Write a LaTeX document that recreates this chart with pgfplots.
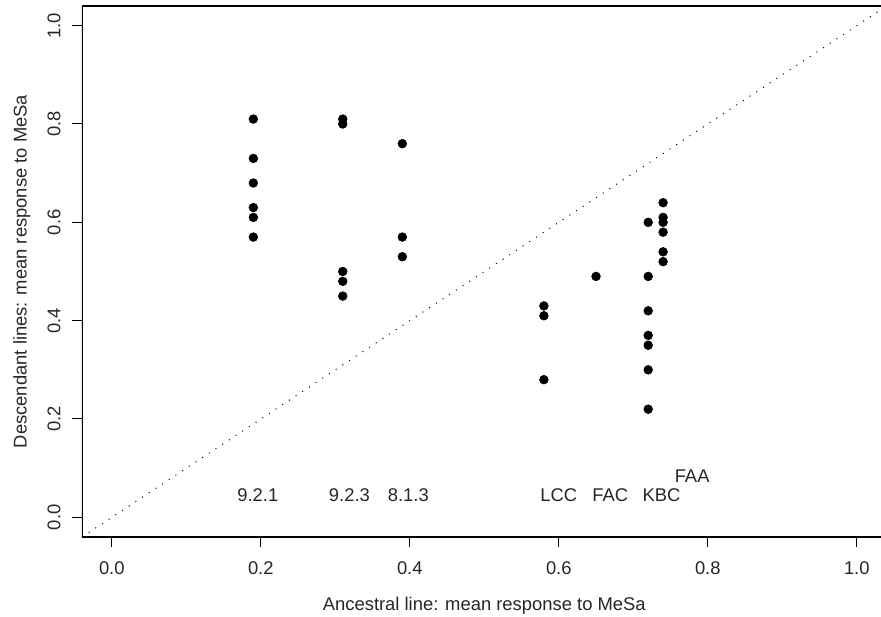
\documentclass[border=0pt]{standalone}
\usepackage{fontspec}
\setmainfont{Liberation Sans}
\usepackage{pgfplots}
\pgfplotsset{compat=1.18}
\pgfplotstableread{
x y
0.19 0.81
0.19 0.73
0.19 0.68
0.19 0.63
0.19 0.61
0.19 0.57
0.31 0.81
0.31 0.80
0.31 0.50
0.31 0.48
0.31 0.45
0.39 0.76
0.39 0.57
0.39 0.53
0.58 0.43
0.58 0.41
0.58 0.28
0.65 0.49
0.72 0.60
0.72 0.49
0.72 0.42
0.72 0.37
0.72 0.35
0.72 0.30
0.72 0.22
0.74 0.64
0.74 0.61
0.74 0.60
0.74 0.58
0.74 0.54
0.74 0.52
}\pts
\begin{document}
\begin{tikzpicture}[font=\fontsize{13.8pt}{16pt}\selectfont]
\begin{axis}[
  scale only axis,
  width=599.25pt, height=398.25pt,
  xmin=-0.04, xmax=1.0325, ymin=-0.04, ymax=1.04,
  axis line style={draw=none},
  xtick={0,0.2,0.4,0.6,0.8,1},
  ytick={0,0.2,0.4,0.6,0.8,1},
  xticklabels={0.0,0.2,0.4,0.6,0.8,1.0},
  yticklabels={0.0,0.2,0.4,0.6,0.8,1.0},
  /pgf/number format/assume math mode=true,
  tick align=outside, xtick pos=bottom, ytick pos=left,
  major tick length=7.5pt,
  tick style={line width=0.75pt, black},
  xticklabel style={anchor=center, yshift=-15.75pt, text=black!85},
  yticklabel style={anchor=center, xshift=-13.5pt, rotate=90, text=black!85},
  xlabel={Ancestral line: mean response to MeSa},
  ylabel={Descendant lines: mean response to MeSa},
  xlabel style={at={(axis description cs:0.5035,-0.13)}, anchor=center, text=black!85},
  ylabel style={at={(axis description cs:-0.0751,0.5)}, anchor=center, text=black!85},
]
\draw[line width=0.8pt] (rel axis cs:1,1) -- (rel axis cs:0,1) -- (rel axis cs:0,0) -- (rel axis cs:1,0);
\addplot[black, line width=0.75pt, dash pattern=on 0.75pt off 5.25pt] coordinates {(-0.04,-0.04) (1.04,1.04)};
\addplot[only marks, mark=*, mark size=3.3pt, black] table[x=x,y=y] {\pts};
\node[text=black!85] at (axis cs:0.196,0.045) {9.2.1};
\node[text=black!85] at (axis cs:0.319,0.045) {9.2.3};
\node[text=black!85] at (axis cs:0.398,0.045) {8.1.3};
\node[text=black!85] at (axis cs:0.600,0.045) {LCC};
\node[text=black!85] at (axis cs:0.669,0.045) {FAC};
\node[text=black!85] at (axis cs:0.738,0.045) {KBC};
\node[text=black!85] at (axis cs:0.779,0.084) {FAA};
\end{axis}
\pgfresetboundingbox
\path (-61.5pt,-60pt) rectangle (599.25pt,402.75pt);
\end{tikzpicture}
\end{document}
